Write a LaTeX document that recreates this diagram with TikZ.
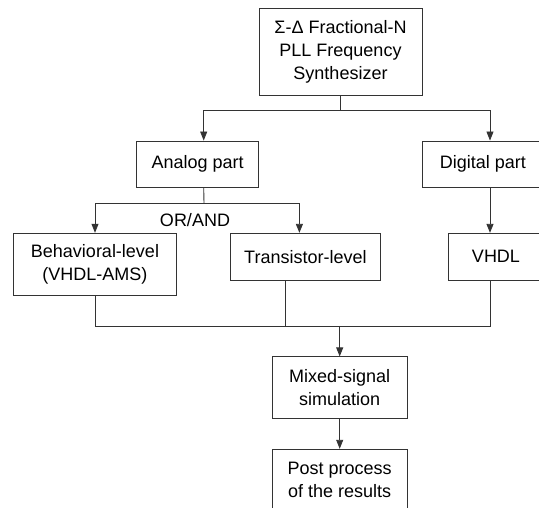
\documentclass[tikz,border=0pt]{standalone}
\usepackage{fontspec}
\setmainfont{Liberation Sans}
\usetikzlibrary{arrows.meta,positioning,calc}

\begin{document}
\begin{tikzpicture}[x=1pt,y=-1pt,>={Triangle[length=9pt,width=7pt]},
                    font=\fontsize{18}{23}\selectfont]
  \tikzstyle{block}=[draw=black!80, line width=1pt, align=center,
                     inner sep=0pt, text=black]
  \tikzstyle{link}=[color=black!80, line width=0.9pt]
  \useasboundingbox (0,0) rectangle (539,508);
  \clip (0,0) rectangle (539,508);

  \node[block, minimum width=163pt, minimum height=87pt] (synth) at (340.5,51.7)
       {Σ-Δ Fractional-N\\PLL Frequency\\Synthesizer};
  \node[block, minimum width=122.5pt, minimum height=46.3pt] (analog) at (197.7,164.2) {Analog part};
  \node[block, minimum width=122pt, minimum height=46.3pt] (digital) at (483,164.2) {Digital part};
  \node[block, minimum width=163pt, minimum height=62pt] (behav) at (95,264.3)
       {Behavioral-level\\(VHDL-AMS)};
  \node[block, minimum width=149.5pt, minimum height=46.7pt] (trans) at (305.4,256.7) {Transistor-level};
  \node[block, minimum width=96pt, minimum height=46.7pt] (vhdl) at (496,256.7) {VHDL};
  \node[block, minimum width=135.3pt, minimum height=61.7pt] (mixed) at (339.7,387.8)
       {Mixed-signal\\simulation};
  \node[block, minimum width=135.3pt, minimum height=62pt] (post) at (339.7,480.3)
       {Post process\\of the results};
  \node[text=black, inner sep=0pt] (orand) at (195,220) {OR/AND};

  \coordinate (topsplit) at (340.5,110);
  \coordinate (anasplit) at (204,203);
  \coordinate (bus) at (339.7,326);

  \draw[link] (synth) -- (topsplit);
  \draw[link,->] (topsplit) -| ([xshift=6pt]analog.north);
  \draw[link,->] (topsplit) -| ([xshift=7pt]digital.north);

  \draw[link] ([xshift=6pt]analog.south) -- (anasplit);
  \draw[link,->] (anasplit) -| (behav.north);
  \draw[link,->] (anasplit) -| ([xshift=-6pt]trans.north);
  \draw[link,->] ([xshift=7pt]digital.south) -- ([xshift=-6pt]vhdl.north);

  \draw[link] (behav.south) |- (bus);
  \draw[link] ([xshift=-20pt]trans.south) |- (bus);
  \draw[link] ([xshift=-6pt]vhdl.south) |- (bus);
  \draw[link,->] (bus) -- (mixed);
  \draw[link,->] (mixed) -- (post);

\end{tikzpicture}
\end{document}
